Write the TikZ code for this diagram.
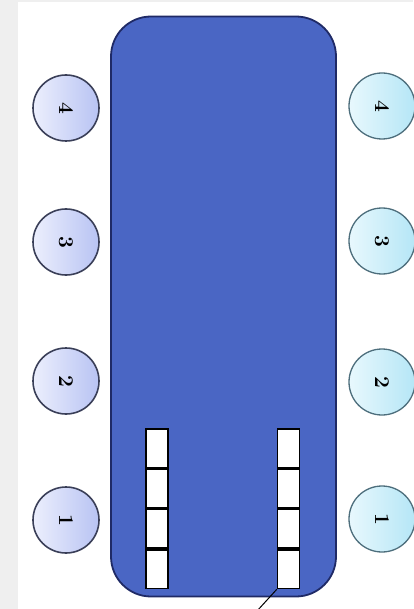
\documentclass[tikz,border=0pt]{standalone}
\usepackage{tikz}
\definecolor{tablefill}{HTML}{4A66C4}
\definecolor{tableedge}{HTML}{1F2A66}
\definecolor{lseatA}{HTML}{ECEFFD}
\definecolor{lseatB}{HTML}{B8C3F3}
\definecolor{lseatedge}{HTML}{3A3F58}
\definecolor{rseatA}{HTML}{E8F8FD}
\definecolor{rseatB}{HTML}{B5E6F6}
\definecolor{rseatedge}{HTML}{4D6E7C}
\definecolor{stripgray}{HTML}{EFEFEF}
\tikzset{
  lseat/.style={circle, minimum size=66pt, inner sep=0pt, draw=lseatedge, line width=1.6pt,
    left color=lseatA, right color=lseatB, font=\fontsize{21}{21}\selectfont\bfseries, rotate=-90},
  rseat/.style={circle, minimum size=66pt, inner sep=0pt, draw=rseatedge, line width=1.3pt,
    left color=rseatA, right color=rseatB, font=\fontsize{21}{21}\selectfont\bfseries, rotate=-90},
  slot/.style={rectangle, draw=black, line width=1.6pt, fill=white, minimum width=22pt,
    minimum height=38.75pt, inner sep=0pt, anchor=north},
}
\begin{document}
\begin{tikzpicture}[x=1pt,y=-1pt]
\useasboundingbox (0,0) rectangle (413,609);
\fill[white] (0,0) rectangle (413,609);
\fill[stripgray] (0,0) rectangle (18,609);
\fill[stripgray] (0,0) rectangle (413,2.5);
% table
\node[draw=tableedge, fill=tablefill, line width=1.8pt, rounded corners=40pt,
  minimum width=225pt, minimum height=580pt, inner sep=0pt] (table) at (223.5,306.5) {};
% left seats
\node[lseat] (l4) at (66,108) {4};
\node[lseat] (l3) at (66,242) {3};
\node[lseat] (l2) at (66,381) {2};
\node[lseat] (l1) at (66,520) {1};
% right seats
\node[rseat] (r4) at (382,106) {4};
\node[rseat] (r3) at (382,241) {3};
\node[rseat] (r2) at (382,382) {2};
\node[rseat] (r1) at (382,519) {1};
% slots
\node[slot] (a1) at (157,428) {};
\node[slot] (a2) at (a1.south) {};
\node[slot] (a3) at (a2.south) {};
\node[slot] (a4) at (a3.south) {};
\node[slot] (b1) at (288.5,428) {};
\node[slot] (b2) at (b1.south) {};
\node[slot] (b3) at (b2.south) {};
\node[slot] (b4) at (b3.south) {};
% connector
\coordinate (tail) at (257,611);
\draw[black, line width=1pt] (b4.south west) -- (tail);
\end{tikzpicture}
\end{document}
